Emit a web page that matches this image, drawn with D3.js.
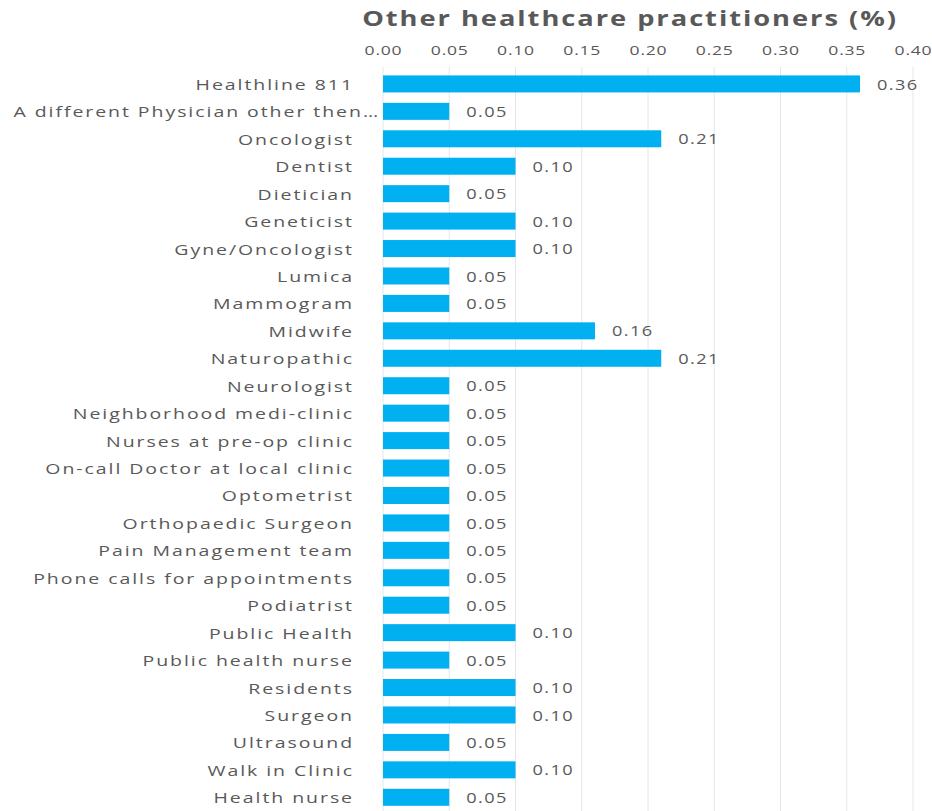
<!DOCTYPE html>
<html>
<head>
<meta charset="utf-8">
<script src="https://cdn.jsdelivr.net/npm/d3@7"></script>
<style>
  html, body { margin: 0; padding: 0; background: #fff; }
  svg { display: block; }
  text { font-family: "Open Sans", "Noto Sans", sans-serif; fill: #595959; }
</style>
</head>
<body>
<svg id="chart" width="932" height="811"></svg>
<script>
// Survey responses: share of respondents mentioning each practitioner (%)
const categories = [
  "Healthline 811",
  "A different Physician other then\u2026",
  "Oncologist",
  "Dentist",
  "Dietician",
  "Geneticist",
  "Gyne/Oncologist",
  "Lumica",
  "Mammogram",
  "Midwife",
  "Naturopathic",
  "Neurologist",
  "Neighborhood medi-clinic",
  "Nurses at pre-op clinic",
  "On-call Doctor at local clinic",
  "Optometrist",
  "Orthopaedic Surgeon",
  "Pain Management team",
  "Phone calls for appointments",
  "Podiatrist",
  "Public Health",
  "Public health nurse",
  "Residents",
  "Surgeon",
  "Ultrasound",
  "Walk in Clinic",
  "Health nurse"
];
const values = [
  0.36, 0.05, 0.21, 0.10, 0.05, 0.10, 0.10, 0.05, 0.05, 0.16,
  0.21, 0.05, 0.05, 0.05, 0.05, 0.05, 0.05, 0.05, 0.05, 0.05,
  0.10, 0.05, 0.10, 0.10, 0.05, 0.10, 0.05
];
const tickValues = [0, 0.05, 0.10, 0.15, 0.20, 0.25, 0.30, 0.35, 0.40];
const title = "Other healthcare practitioners (%)";

const data = categories.map((c, i) => ({ category: c, value: values[i] }));

const width = 932, height = 811;
const margin = { top: 70.2, left: 383, right: 19, bottom: 0 };
// Text is set a little wide, Excel-style
const stretch = 1.3;

const svg = d3.select("#chart");

const x = d3.scaleLinear()
  .domain([0, 0.40])
  .range([margin.left, width - margin.right]);

const y = d3.scaleBand()
  .domain(categories)
  .range([margin.top, height])
  .paddingInner(0.38)
  .paddingOuter(0.19);

// Vertical gridlines
svg.append("g")
  .selectAll("line")
  .data(tickValues)
  .join("line")
  .attr("x1", d => x(d)).attr("x2", d => x(d))
  .attr("y1", 67).attr("y2", height)
  .attr("stroke", "#e6e6e6")
  .attr("stroke-width", 1);

// Top axis labels
const axis = d3.axisTop(x)
  .tickValues(tickValues)
  .tickFormat(d3.format(".2f"))
  .tickSize(0)
  .tickPadding(0);
const gAxis = svg.append("g")
  .attr("transform", "translate(0,55)")
  .call(axis);
gAxis.select(".domain").remove();
gAxis.attr("font-family", null).attr("font-size", null);
gAxis.selectAll("text")
  .attr("transform", `scale(${stretch},1)`)
  .style("font-size", "13.5px")
  .style("letter-spacing", "0.6px")
  .attr("fill", "#595959");

// Bars
svg.append("g")
  .selectAll("rect")
  .data(data)
  .join("rect")
  .attr("x", x(0))
  .attr("y", d => y(d.category))
  .attr("width", d => x(d.value) - x(0))
  .attr("height", y.bandwidth())
  .attr("fill", "#00B0F0");

// Value labels
svg.append("g")
  .selectAll("text")
  .data(data)
  .join("text")
  .attr("transform", d =>
    `translate(${x(d.value) + 17},${y(d.category) + y.bandwidth() / 2}) scale(${stretch},1)`)
  .attr("dy", "0.4em")
  .style("font-size", "14px")
  .style("letter-spacing", "1.1px")
  .text(d => d3.format(".2f")(d.value));

// Category labels
svg.append("g")
  .selectAll("text")
  .data(data)
  .join("text")
  .attr("transform", d =>
    `translate(${d.category.endsWith("\u2026") ? 380 : 354},${y(d.category) + y.bandwidth() / 2}) scale(${stretch},1)`)
  .attr("dy", "0.4em")
  .attr("text-anchor", "end")
  .style("font-size", "15px")
  .style("letter-spacing", "1.5px")
  .text(d => d.category);

// Title
svg.append("text")
  .attr("transform", `translate(630,26) scale(${stretch},1)`)
  .attr("text-anchor", "middle")
  .style("font-size", "21px")
  .style("font-weight", "bold")
  .style("letter-spacing", "1.5px")
  .text(title);
</script>
</body>
</html>
